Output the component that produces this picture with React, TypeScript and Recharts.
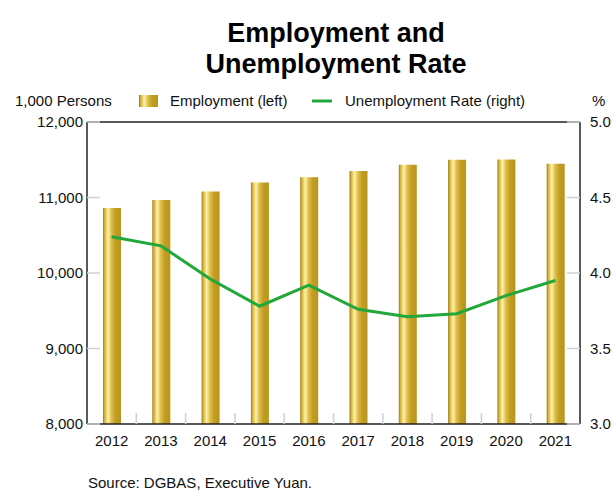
import React from 'react';
import { ComposedChart, Bar, Line, XAxis, YAxis, ReferenceLine } from 'recharts';

const years = ['2012', '2013', '2014', '2015', '2016', '2017', '2018', '2019', '2020', '2021'];
const employment = [10860, 10967, 11079, 11198, 11267, 11352, 11434, 11500, 11504, 11447];
const unemploymentRate = [4.24, 4.18, 3.96, 3.78, 3.92, 3.76, 3.71, 3.73, 3.85, 3.95];
const leftTicks = [8000, 9000, 10000, 11000, 12000];
const rightTicks = [3.0, 3.5, 4.0, 4.5, 5.0];

const data = years.map((year, i) => ({
  year,
  employment: employment[i],
  rate: unemploymentRate[i],
}));

const FONT = '"Liberation Sans", Arial, sans-serif';
const borderColor = '#222';
const stubColor = '#d0d0d0';
const lineColor = '#22a83a';

// band width of one category on the x axis (plot 87..580, 10 years)
const BAND = (580 - 87) / years.length;

const GoldStops = () => (
  <>
    <stop offset="0%" stopColor="#9c7a12" />
    <stop offset="10%" stopColor="#d8b440" />
    <stop offset="28%" stopColor="#fff2a4" />
    <stop offset="48%" stopColor="#dcbb48" />
    <stop offset="70%" stopColor="#c19d22" />
    <stop offset="100%" stopColor="#b8951c" />
  </>
);

const LeftTick = (props: any) => {
  const { x, y, payload } = props;
  return (
    <g>
      <line x1={x + 4} x2={x + 17} y1={y} y2={y} stroke={stubColor} strokeWidth={1.5} />
      <text x={x} y={y + 5} textAnchor="end" fill="#111" fontSize={15} fontFamily={FONT}>
        {payload.value.toLocaleString('en-US')}
      </text>
    </g>
  );
};

const RightTick = (props: any) => {
  const { x, y, payload } = props;
  return (
    <g>
      <line x1={x - 23} x2={x - 10} y1={y} y2={y} stroke={stubColor} strokeWidth={1.5} />
      <text x={x} y={y + 5} textAnchor="start" fill="#111" fontSize={15} fontFamily={FONT}>
        {Number(payload.value).toFixed(1)}
      </text>
    </g>
  );
};

const BottomTick = (props: any) => {
  const { x, y, payload, index } = props;
  return (
    <g>
      {index > 0 && (
        <line x1={x - BAND / 2} x2={x - BAND / 2} y1={y - 11} y2={y - 22} stroke={stubColor} strokeWidth={1.5} />
      )}
      <text x={x} y={y + 11} textAnchor="middle" fill="#111" fontSize={15} fontFamily={FONT}>
        {payload.value}
      </text>
    </g>
  );
};

export default function App() {
  return (
    <div style={{ position: 'absolute', left: 0, top: 0, width: 613, height: 493, background: '#fff' }}>
      <ComposedChart
        width={613}
        height={493}
        data={data}
        margin={{ top: 122, right: 0, bottom: 0, left: 0 }}
        barCategoryGap={0}
      >
        <defs>
          <linearGradient id="goldBar" x1="0" y1="0" x2="1" y2="0">
            <GoldStops />
          </linearGradient>
        </defs>
        <XAxis
          dataKey="year"
          height={69}
          axisLine={{ stroke: borderColor, strokeWidth: 1.5 }}
          tickLine={false}
          tickSize={0}
          tickMargin={11}
          interval={0}
          tick={<BottomTick />}
        />
        <YAxis
          yAxisId="left"
          orientation="left"
          width={87}
          domain={[8000, 12000]}
          ticks={leftTicks}
          allowDataOverflow
          axisLine={{ stroke: borderColor, strokeWidth: 1.5 }}
          tickLine={false}
          tickSize={0}
          tickMargin={4}
          tick={<LeftTick />}
        />
        <YAxis
          yAxisId="right"
          orientation="right"
          width={33}
          domain={[3, 5]}
          ticks={rightTicks}
          allowDataOverflow
          axisLine={{ stroke: borderColor, strokeWidth: 1.5 }}
          tickLine={false}
          tickSize={0}
          tickMargin={10}
          tick={<RightTick />}
        />
        <ReferenceLine yAxisId="left" y={12000} stroke={borderColor} strokeWidth={1.5} />
        <Bar
          yAxisId="left"
          dataKey="employment"
          barSize={18}
          fill="url(#goldBar)"
          isAnimationActive={false}
        />
        <Line
          yAxisId="right"
          dataKey="rate"
          stroke={lineColor}
          strokeWidth={3}
          dot={false}
          activeDot={false}
          type="linear"
          isAnimationActive={false}
        />
      </ComposedChart>

      <svg
        width={613}
        height={493}
        style={{ position: 'absolute', left: 0, top: 0, pointerEvents: 'none' }}
      >
        <defs>
          <linearGradient id="goldBarLegend" x1="0" y1="0" x2="1" y2="0">
            <GoldStops />
          </linearGradient>
        </defs>
        <text x={336} y={42} textAnchor="middle" fontSize={27} fontWeight="bold" fontFamily={FONT} fill="#000">
          Employment and
        </text>
        <text x={336} y={73} textAnchor="middle" fontSize={27} fontWeight="bold" fontFamily={FONT} fill="#000">
          Unemployment Rate
        </text>

        <text x={15} y={106} fontSize={15} fontFamily={FONT} fill="#111">1,000 Persons</text>
        <rect x={139} y={95} width={19} height={12} fill="url(#goldBarLegend)" />
        <text x={170} y={106} fontSize={15} fontFamily={FONT} fill="#111">Employment (left)</text>
        <line x1={312} x2={332} y1={101} y2={101} stroke={lineColor} strokeWidth={3} />
        <text x={345} y={106} fontSize={15} fontFamily={FONT} fill="#111">Unemployment Rate (right)</text>
        <text x={592} y={106} fontSize={15} fontFamily={FONT} fill="#111">%</text>

        <text x={88} y={488} fontSize={15} fontFamily={FONT} fill="#111">Source: DGBAS, Executive Yuan.</text>
      </svg>
    </div>
  );
}
